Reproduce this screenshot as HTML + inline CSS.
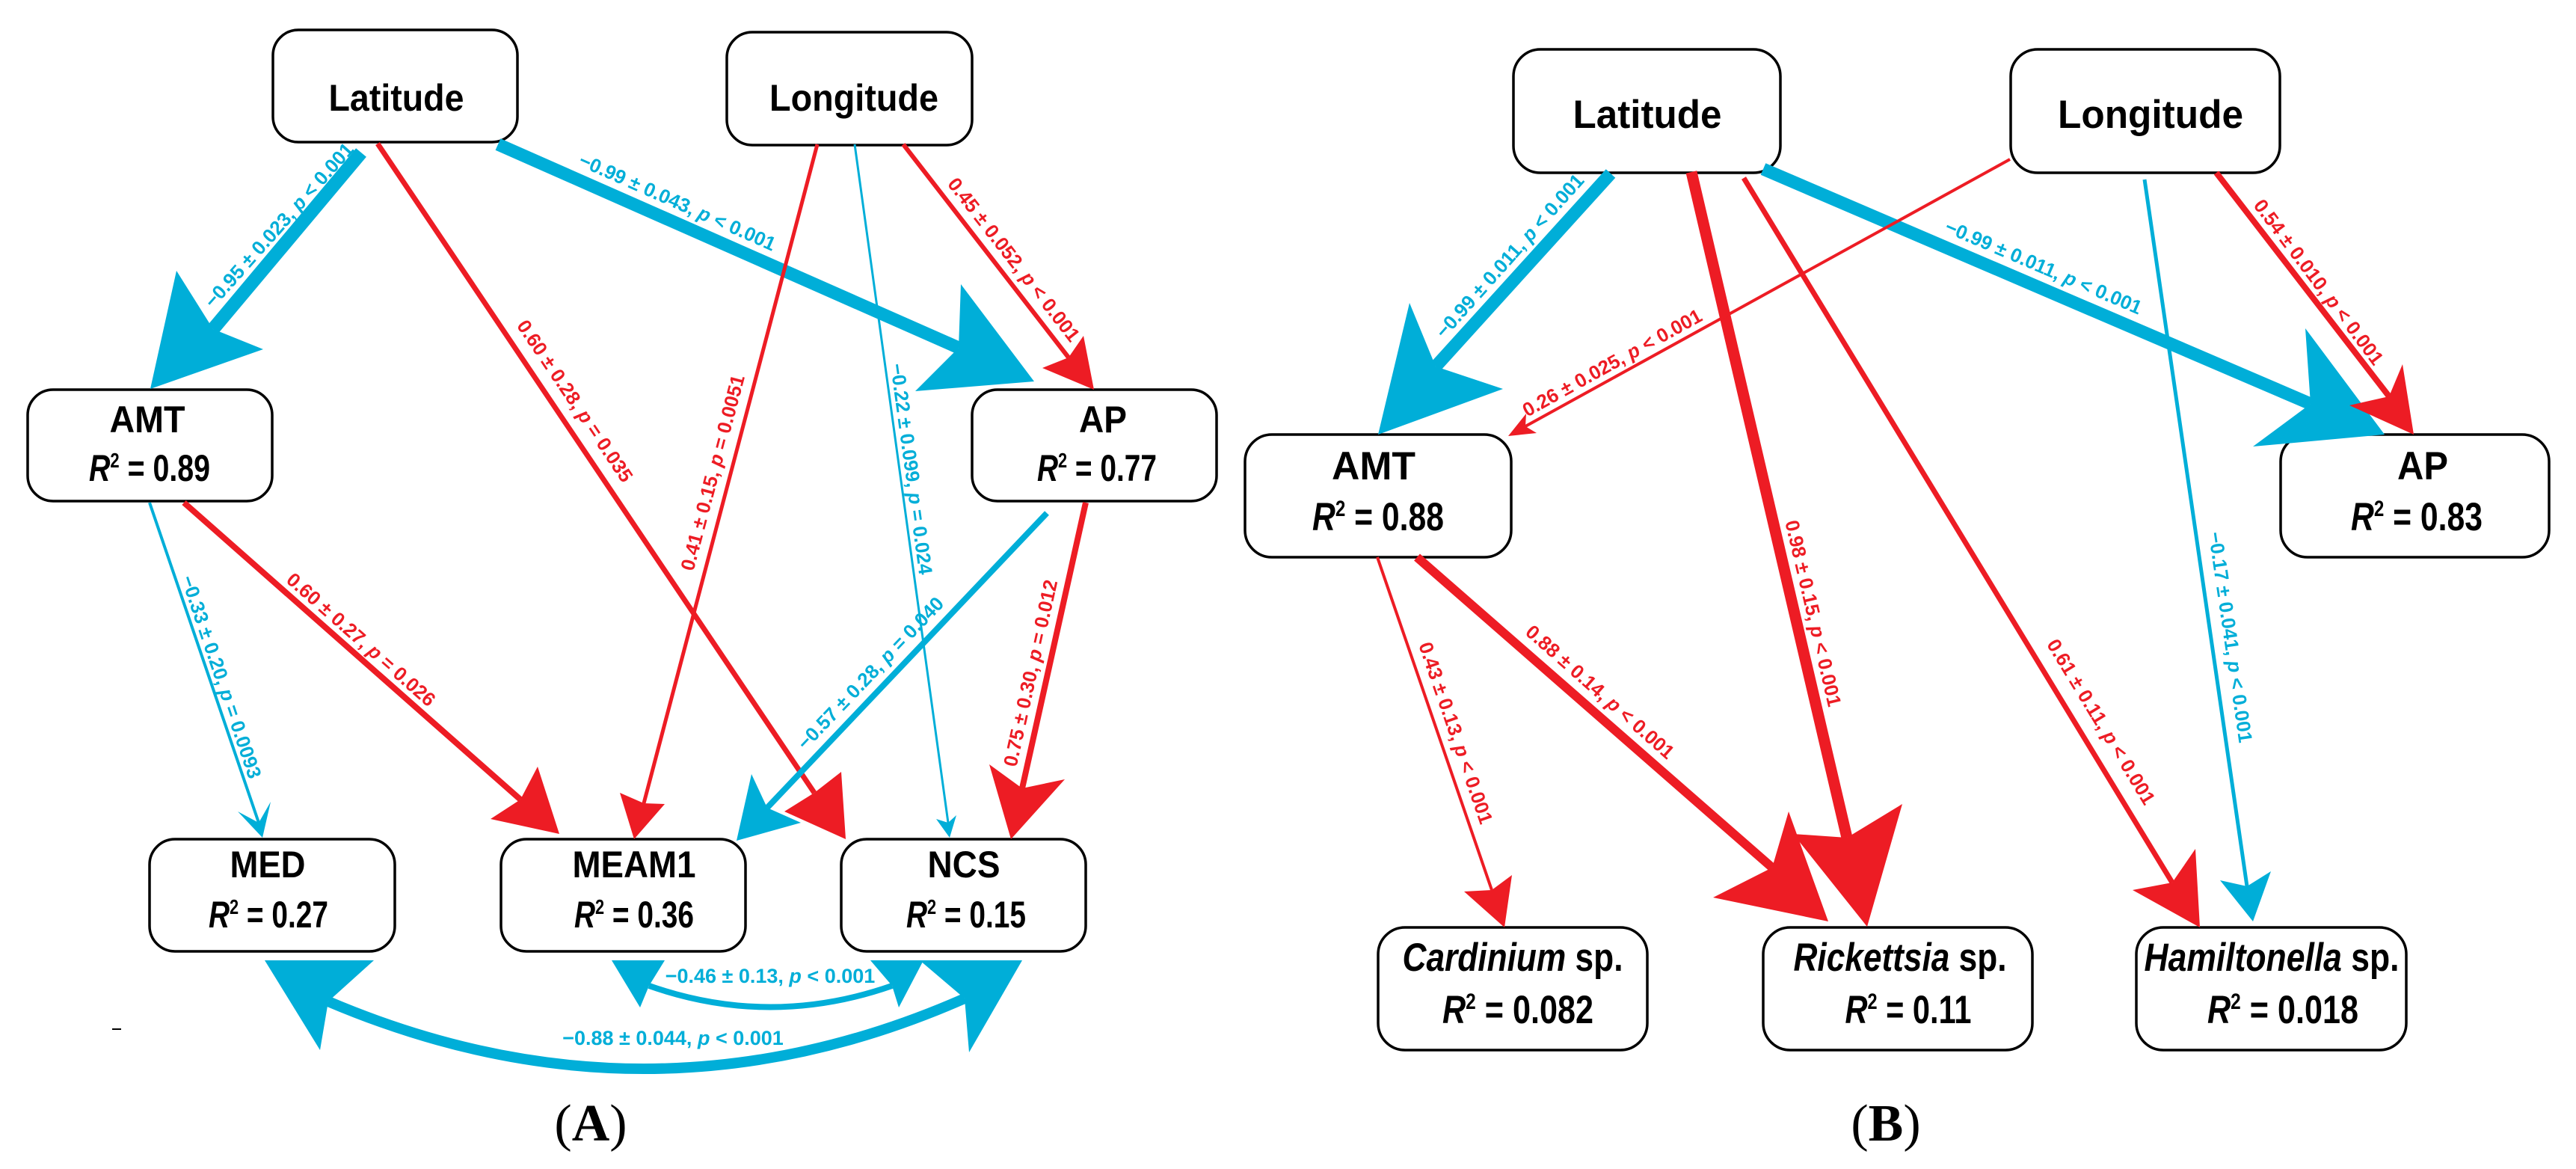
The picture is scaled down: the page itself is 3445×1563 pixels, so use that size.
<!DOCTYPE html>
<html><head><meta charset="utf-8"><style>
html,body{margin:0;padding:0;background:#fff;}
svg{display:block;}
.n{font-family:"Liberation Sans",Arial,sans-serif;font-weight:bold;fill:#000;}
.l{font-family:"Liberation Sans",Arial,sans-serif;font-weight:bold;font-size:26px;}
.b{fill:#00aed8;}
.r{fill:#ed1c24;}
</style></head><body>
<svg width="3445" height="1563" viewBox="0 0 3445 1563" xmlns="http://www.w3.org/2000/svg">
<rect width="3445" height="1563" fill="#fff"/>
<g fill="#fff" stroke="#000" stroke-width="3.5">
<rect x="365" y="40" width="327" height="150" rx="34"/>
<rect x="972" y="43" width="328" height="151" rx="34"/>
<rect x="37" y="521" width="327" height="149" rx="34"/>
<rect x="1300" y="521" width="327" height="149" rx="34"/>
<rect x="200" y="1122" width="328" height="150" rx="34"/>
<rect x="670" y="1122" width="327" height="150" rx="34"/>
<rect x="1125" y="1122" width="327" height="150" rx="34"/>
<rect x="2024" y="66" width="357" height="165" rx="36"/>
<rect x="2689" y="66" width="360" height="165" rx="36"/>
<rect x="1665" y="581" width="356" height="164" rx="36"/>
<rect x="3050" y="581" width="359" height="164" rx="36"/>
<rect x="1843" y="1240" width="360" height="164" rx="36"/>
<rect x="2358" y="1240" width="360" height="164" rx="36"/>
<rect x="2857" y="1240" width="361" height="164" rx="36"/>
</g>
<g fill="none" stroke-linecap="butt">
<line x1="483" y1="204" x2="285" y2="440" stroke="#00aed8" stroke-width="18"/>
<line x1="666" y1="193" x2="1282" y2="465" stroke="#00aed8" stroke-width="17"/>
<line x1="505" y1="192" x2="1089" y2="1060" stroke="#ed1c24" stroke-width="7"/>
<line x1="1093" y1="193" x2="861" y2="1074" stroke="#ed1c24" stroke-width="5"/>
<line x1="1143" y1="193" x2="1268" y2="1100" stroke="#00aed8" stroke-width="3"/>
<line x1="1208" y1="193" x2="1429" y2="478" stroke="#ed1c24" stroke-width="6"/>
<line x1="200" y1="672" x2="346" y2="1100" stroke="#00aed8" stroke-width="4"/>
<line x1="246" y1="672" x2="696" y2="1069" stroke="#ed1c24" stroke-width="8"/>
<line x1="1400" y1="686" x2="1026" y2="1080" stroke="#00aed8" stroke-width="8"/>
<line x1="1452" y1="672" x2="1367" y2="1054" stroke="#ed1c24" stroke-width="8"/>
<path d="M 868 1318 Q 1030 1375 1193 1318" stroke="#00aed8" stroke-width="8"/>
<path d="M 439 1339 Q 867 1521 1290 1335" stroke="#00aed8" stroke-width="14"/>
</g>
<g>
<polygon class="b" points="201,520 236,362 285,440 352,467"/>
<polygon class="b" points="1383,510 1285,380 1282,465 1224,523"/>
<polygon class="r" points="1131,1122 1125,1032 1089,1060 1049,1085"/>
<polygon class="r" points="848,1122 829,1060 861,1074 889,1075"/>
<polygon class="b" points="1270,1120 1252,1095 1268,1100 1279,1090"/>
<polygon class="r" points="1463,521 1449,449 1429,478 1394,492"/>
<polygon class="b" points="351,1120 318,1085 346,1100 362,1072"/>
<polygon class="r" points="748,1115 719,1025 696,1069 656,1095"/>
<polygon class="b" points="985,1124 1005,1035 1026,1080 1071,1100"/>
<polygon class="r" points="1352,1122 1323,1022 1367,1054 1424,1042"/>
<polygon class="b" points="818,1284 889,1284 868,1318 856,1347"/>
<polygon class="b" points="1235,1284 1164,1284 1193,1318 1202,1347"/>
<polygon class="b" points="354,1284 500,1284 439,1339 428,1404"/>
<polygon class="b" points="1367,1284 1230,1284 1290,1335 1296,1407"/>
</g>
<g fill="none">
<line x1="2154" y1="232" x2="1920" y2="490" stroke="#00aed8" stroke-width="17"/>
<line x1="2358" y1="226" x2="3090" y2="540" stroke="#00aed8" stroke-width="17"/>
<line x1="2262" y1="230" x2="2470" y2="1120" stroke="#ed1c24" stroke-width="15"/>
<line x1="2332" y1="238" x2="2905" y2="1180" stroke="#ed1c24" stroke-width="7"/>
<line x1="2688" y1="213" x2="2040" y2="570" stroke="#ed1c24" stroke-width="4"/>
<line x1="2964" y1="231" x2="3195" y2="530" stroke="#ed1c24" stroke-width="8"/>
<line x1="2868" y1="240" x2="3005" y2="1185" stroke="#00aed8" stroke-width="5"/>
<line x1="1842" y1="745" x2="1995" y2="1190" stroke="#ed1c24" stroke-width="4"/>
<line x1="1895" y1="745" x2="2370" y2="1160" stroke="#ed1c24" stroke-width="12"/>
</g>
<g>
<polygon class="b" points="1843,581 1885,405 1920,490 2010,520"/>
<polygon class="b" points="3189,581 3083,439 3090,540 3013,597"/>
<polygon class="r" points="2497,1239 2544,1075 2470,1120 2398,1115"/>
<polygon class="r" points="2445,1232 2392,1085 2370,1160 2291,1200"/>
<polygon class="r" points="2942,1240 2936,1135 2905,1180 2852,1190"/>
<polygon class="r" points="2017,583 2055,579 2040,570 2041,553"/>
<polygon class="r" points="3228,581 3213,487 3195,530 3142,542"/>
<polygon class="b" points="3013,1232 3037,1165 3005,1185 2969,1177"/>
<polygon class="r" points="2012,1240 2022,1170 1995,1190 1958,1192"/>
</g>
<g class="n" text-anchor="middle" font-size="50">
<text x="530" y="148" textLength="181" lengthAdjust="spacingAndGlyphs">Latitude</text>
<text x="1142" y="148" textLength="226" lengthAdjust="spacingAndGlyphs">Longitude</text>
<text x="197" y="578" textLength="101" lengthAdjust="spacingAndGlyphs">AMT</text>
<text x="200" y="643" textLength="162" lengthAdjust="spacingAndGlyphs"><tspan font-style="italic">R</tspan><tspan font-size="28" dy="-18">2</tspan><tspan dy="18"> = 0.89</tspan></text>
<text x="1475" y="578" textLength="64" lengthAdjust="spacingAndGlyphs">AP</text>
<text x="1467" y="643" textLength="160" lengthAdjust="spacingAndGlyphs"><tspan font-style="italic">R</tspan><tspan font-size="28" dy="-18">2</tspan><tspan dy="18"> = 0.77</tspan></text>
<text x="358" y="1173" textLength="101" lengthAdjust="spacingAndGlyphs">MED</text>
<text x="359" y="1240" textLength="160" lengthAdjust="spacingAndGlyphs"><tspan font-style="italic">R</tspan><tspan font-size="28" dy="-18">2</tspan><tspan dy="18"> = 0.27</tspan></text>
<text x="848" y="1173" textLength="165" lengthAdjust="spacingAndGlyphs">MEAM1</text>
<text x="848" y="1240" textLength="160" lengthAdjust="spacingAndGlyphs"><tspan font-style="italic">R</tspan><tspan font-size="28" dy="-18">2</tspan><tspan dy="18"> = 0.36</tspan></text>
<text x="1289" y="1173" textLength="97" lengthAdjust="spacingAndGlyphs">NCS</text>
<text x="1292" y="1240" textLength="160" lengthAdjust="spacingAndGlyphs"><tspan font-style="italic">R</tspan><tspan font-size="28" dy="-18">2</tspan><tspan dy="18"> = 0.15</tspan></text>
</g>
<g class="n" text-anchor="middle" font-size="53">
<text x="2203" y="171" textLength="199" lengthAdjust="spacingAndGlyphs">Latitude</text>
<text x="2876" y="171" textLength="248" lengthAdjust="spacingAndGlyphs">Longitude</text>
<text x="1837" y="641" textLength="112" lengthAdjust="spacingAndGlyphs">AMT</text>
<text x="1843" y="709" textLength="176" lengthAdjust="spacingAndGlyphs"><tspan font-style="italic">R</tspan><tspan font-size="30" dy="-19">2</tspan><tspan dy="19"> = 0.88</tspan></text>
<text x="3240" y="641" textLength="68" lengthAdjust="spacingAndGlyphs">AP</text>
<text x="3232" y="709" textLength="176" lengthAdjust="spacingAndGlyphs"><tspan font-style="italic">R</tspan><tspan font-size="30" dy="-19">2</tspan><tspan dy="19"> = 0.83</tspan></text>
<text x="2023" y="1298" textLength="295" lengthAdjust="spacingAndGlyphs"><tspan font-style="italic">Cardinium</tspan> sp.</text>
<text x="2030" y="1368" textLength="202" lengthAdjust="spacingAndGlyphs"><tspan font-style="italic">R</tspan><tspan font-size="30" dy="-19">2</tspan><tspan dy="19"> = 0.082</tspan></text>
<text x="2541" y="1298" textLength="285" lengthAdjust="spacingAndGlyphs"><tspan font-style="italic">Rickettsia</tspan> sp.</text>
<text x="2552" y="1368" textLength="169" lengthAdjust="spacingAndGlyphs"><tspan font-style="italic">R</tspan><tspan font-size="30" dy="-19">2</tspan><tspan dy="19"> = 0.11</tspan></text>
<text x="3038" y="1298" textLength="341" lengthAdjust="spacingAndGlyphs"><tspan font-style="italic">Hamiltonella</tspan> sp.</text>
<text x="3053" y="1368" textLength="202" lengthAdjust="spacingAndGlyphs"><tspan font-style="italic">R</tspan><tspan font-size="30" dy="-19">2</tspan><tspan dy="19"> = 0.018</tspan></text>
</g>
<g class="l" text-anchor="middle" dominant-baseline="central">
<text class="b" transform="translate(373,301) rotate(-48.3)">−0.95 ± 0.023, <tspan font-style="italic">p</tspan> &lt; 0.001</text>
<text class="b" transform="translate(906,270) rotate(23.9)">−0.99 ± 0.043, <tspan font-style="italic">p</tspan> &lt; 0.001</text>
<text class="r" transform="translate(769,536) rotate(56)">0.60 ± 0.28, <tspan font-style="italic">p</tspan> = 0.035</text>
<text class="r" transform="translate(953,632) rotate(-75.2)">0.41 ± 0.15, <tspan font-style="italic">p</tspan> = 0.0051</text>
<text class="b" transform="translate(1219,627) rotate(82.2)">−0.22 ± 0.099, <tspan font-style="italic">p</tspan> = 0.024</text>
<text class="r" transform="translate(1356,347) rotate(52.1)">0.45 ± 0.052, <tspan font-style="italic">p</tspan> &lt; 0.001</text>
<text class="b" transform="translate(296,905) rotate(71.3)">−0.33 ± 0.20, <tspan font-style="italic">p</tspan> = 0.0093</text>
<text class="r" transform="translate(483,855) rotate(41.4)">0.60 ± 0.27, <tspan font-style="italic">p</tspan> = 0.026</text>
<text class="b" transform="translate(1164,900) rotate(-46.4)">−0.57 ± 0.28, <tspan font-style="italic">p</tspan> = 0.040</text>
<text class="r" transform="translate(1378,900) rotate(-77.5)">0.75 ± 0.30, <tspan font-style="italic">p</tspan> = 0.012</text>
<text class="b" x="1030" y="1305" font-size="27">−0.46 ± 0.13, <tspan font-style="italic">p</tspan> &lt; 0.001</text>
<text class="b" x="900" y="1388" font-size="27">−0.88 ± 0.044, <tspan font-style="italic">p</tspan> &lt; 0.001</text>
</g>
<g class="l" text-anchor="middle" dominant-baseline="central" font-size="27">
<text class="b" transform="translate(2019,342) rotate(-48.3)">−0.99 ± 0.011, <tspan font-style="italic">p</tspan> &lt; 0.001</text>
<text class="b" transform="translate(2733,357) rotate(23.1)">−0.99 ± 0.011, <tspan font-style="italic">p</tspan> &lt; 0.001</text>
<text class="r" transform="translate(2156,485) rotate(-28.9)">0.26 ± 0.025, <tspan font-style="italic">p</tspan> &lt; 0.001</text>
<text class="r" transform="translate(3101,377) rotate(53)">0.54 ± 0.010, <tspan font-style="italic">p</tspan> &lt; 0.001</text>
<text class="r" transform="translate(2425,820) rotate(76.8)">0.98 ± 0.15, <tspan font-style="italic">p</tspan> &lt; 0.001</text>
<text class="r" transform="translate(2810,965) rotate(58.7)">0.61 ± 0.11, <tspan font-style="italic">p</tspan> &lt; 0.001</text>
<text class="b" transform="translate(2983,852) rotate(81.7)">−0.17 ± 0.041, <tspan font-style="italic">p</tspan> &lt; 0.001</text>
<text class="r" transform="translate(1947,980) rotate(71)">0.43 ± 0.13, <tspan font-style="italic">p</tspan> &lt; 0.001</text>
<text class="r" transform="translate(2140,925) rotate(41.5)">0.88 ± 0.14, <tspan font-style="italic">p</tspan> &lt; 0.001</text>
</g>
<rect x="150" y="1375" width="12" height="2" fill="#000"/>
<text x="790" y="1525" text-anchor="middle" font-family="Liberation Serif, serif" font-size="70">(<tspan font-weight="bold">A</tspan>)</text>
<text x="2522" y="1525" text-anchor="middle" font-family="Liberation Serif, serif" font-size="70">(<tspan font-weight="bold">B</tspan>)</text>
</svg>
</body></html>
